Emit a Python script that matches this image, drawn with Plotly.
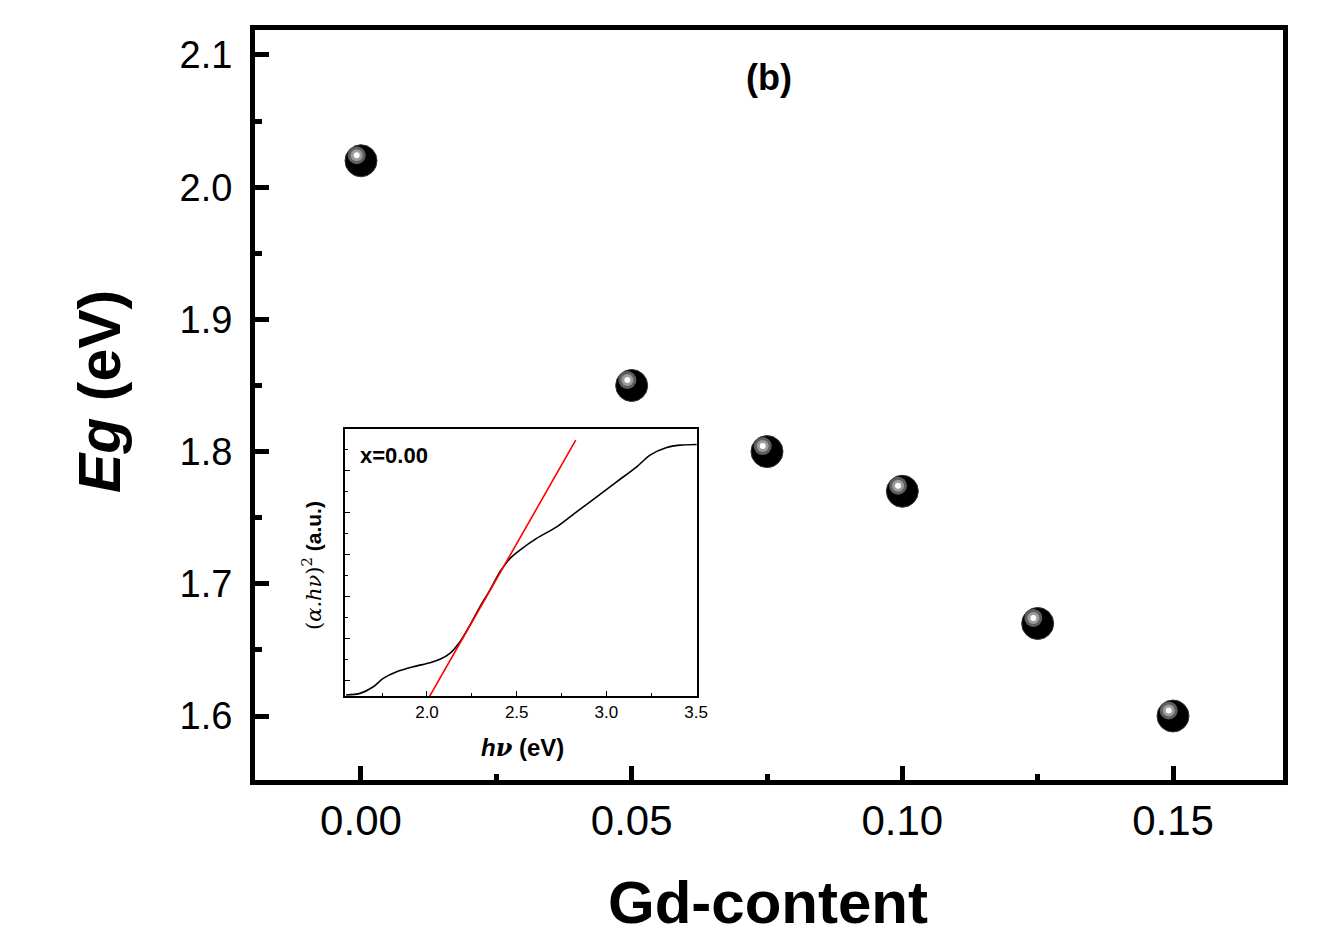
import plotly.graph_objects as go

# ---- main data ----
gd_content = [0.0, 0.05, 0.075, 0.10, 0.125, 0.15]
band_gap = [2.02, 1.85, 1.80, 1.77, 1.67, 1.60]

# ---- inset data (Tauc plot, x = 0.00) ----
inset_hv = [1.549, 1.627, 1.701, 1.756, 1.831, 1.924, 2.017, 2.072, 2.128, 2.184,
            2.240, 2.295, 2.351, 2.407, 2.463, 2.518, 2.611, 2.723, 2.834, 2.946,
            3.057, 3.169, 3.243, 3.336, 3.410, 3.503]
inset_abs = [-0.357, -0.317, -0.160, 0.040, 0.198, 0.317, 0.412, 0.493, 0.635, 0.912,
             1.31, 1.745, 2.143, 2.579, 2.897, 3.095, 3.373, 3.65, 4.007, 4.364,
             4.721, 5.079, 5.357, 5.540, 5.595, 5.611]
fit_hv = [2.013, 2.829]
fit_abs = [-0.40, 5.714]

W, H = 1326, 937
ML, MR, MT, MB = 255, 43, 30, 157
XR = [-0.01958, 0.17032]
YR = [1.5516, 2.1189]
px_per_x = (W - ML - MR) / (XR[1] - XR[0])
px_per_y = (H - MT - MB) / (YR[1] - YR[0])

FONT = "Liberation Sans, Arial, sans-serif"

fig = go.Figure()

# sphere-like markers: black body + offset highlight
fig.add_trace(go.Scatter(x=gd_content, y=band_gap, mode="markers", xaxis="x", yaxis="y",
                         marker=dict(size=32, color="black", line=dict(color="#333", width=1)),
                         showlegend=False, hoverinfo="skip"))
dxo = -4.3 / px_per_x
dyo = 5.5 / px_per_y
hx = [v + dxo for v in gd_content]
hy = [v + dyo for v in band_gap]
for sz, col in [(18, "#5e5e5e"), (12, "#9c9c9c"), (6, "#ffffff")]:
    fig.add_trace(go.Scatter(x=hx, y=hy, mode="markers", xaxis="x", yaxis="y",
                             marker=dict(size=sz, color=col, line=dict(width=0)),
                             showlegend=False, hoverinfo="skip"))

# inset traces
fig.add_trace(go.Scatter(x=inset_hv, y=inset_abs, mode="lines", xaxis="x2", yaxis="y2",
                         line=dict(color="black", width=1.6, shape="spline", smoothing=0.8),
                         showlegend=False, hoverinfo="skip"))
fig.add_trace(go.Scatter(x=fit_hv, y=fit_abs, mode="lines", xaxis="x2", yaxis="y2",
                         line=dict(color="#ff0000", width=1.6),
                         showlegend=False, hoverinfo="skip"))

ix0 = (345 - ML) / (W - ML - MR)
ix1 = (697 - ML) / (W - ML - MR)
iy0 = (H - MB - 696) / (H - MT - MB)
iy1 = (H - MB - 429) / (H - MT - MB)

fig.update_layout(
    width=W, height=H,
    margin=dict(l=ML, r=MR, t=MT, b=MB),
    paper_bgcolor="white", plot_bgcolor="white",
    font=dict(family=FONT, color="black"),
    xaxis=dict(range=XR, domain=[0, 1], showgrid=False, zeroline=False,
               showline=True, linecolor="black", linewidth=5, mirror=True,
               ticks="inside", ticklen=14, tickwidth=5, tickcolor="black",
               tickmode="array", tickvals=[0.0, 0.05, 0.10, 0.15],
               ticktext=["0.00", "0.05", "0.10", "0.15"],
               tickfont=dict(size=42, family=FONT), ticklabelstandoff=0,
               minor=dict(ticks="inside", ticklen=6, tickwidth=5, tickcolor="black",
                          tickvals=[-0.025, 0.025, 0.075, 0.125], showgrid=False)),
    yaxis=dict(range=YR, domain=[0, 1], showgrid=False, zeroline=False,
               showline=True, linecolor="black", linewidth=5, mirror=True,
               ticks="inside", ticklen=14, tickwidth=5, tickcolor="black",
               tickmode="array", tickvals=[1.6, 1.7, 1.8, 1.9, 2.0, 2.1],
               ticktext=["1.6", "1.7", "1.8", "1.9", "2.0", "2.1"],
               tickfont=dict(size=38, family=FONT), ticklabelstandoff=10,
               minor=dict(ticks="inside", ticklen=7, tickwidth=5, tickcolor="black",
                          tickvals=[1.65, 1.75, 1.85, 1.95, 2.05], showgrid=False)),
    xaxis2=dict(range=[1.543, 3.505], domain=[ix0, ix1], anchor="y2",
                showgrid=False, zeroline=False,
                showline=True, linecolor="black", linewidth=1.6, mirror=True,
                ticks="inside", ticklen=5, tickwidth=1.3, tickcolor="black",
                tickmode="array", tickvals=[2.0, 2.5, 3.0, 3.5],
                ticktext=["2.0", "2.5", "3.0", "3.5"],
                tickfont=dict(size=17, family=FONT),
                minor=dict(ticks="inside", ticklen=3, tickwidth=1.3, tickcolor="black",
                           tickvals=[1.75, 2.25, 2.75, 3.25], showgrid=False)),
    yaxis2=dict(range=[-0.38, 5.98], domain=[iy0, iy1], anchor="x2",
                showgrid=False, zeroline=False,
                showline=True, linecolor="black", linewidth=1.6, mirror=True,
                ticks="inside", ticklen=5, tickwidth=1.3, tickcolor="black",
                tickmode="array", tickvals=[0, 1, 2, 3, 4, 5], showticklabels=False,
                minor=dict(ticks="inside", ticklen=3, tickwidth=1.3, tickcolor="black",
                           tickvals=[0.5, 1.5, 2.5, 3.5, 4.5, 5.5], showgrid=False)),
)

pw = W - ML - MR
ph = H - MT - MB
def px(xp):
    return (xp - ML) / pw
def py(yp):
    return (H - MB - yp) / ph

SERIF = "DejaVu Serif, Liberation Serif, serif"
annotations = [
    dict(text="<b><i>E</i><i>g</i> (eV)</b>", x=px(100), y=py(392), textangle=-90,
         font=dict(size=59, family=FONT)),
    dict(text="<b>Gd-content</b>", x=px(768), y=py(903), font=dict(size=60, family=FONT)),
    dict(text="<b>(b)</b>", x=px(769), y=py(78), font=dict(size=36, family=FONT)),
    dict(text="<b>x=0.00</b>", x=px(358), y=py(455), xanchor="left",
         font=dict(size=22, family=FONT)),
    dict(text="<b><i>h</i><span style='font-family:" + SERIF + "'><i>ν</i></span> (eV)</b>",
         x=px(522), y=py(747), font=dict(size=24, family=FONT)),
    dict(text="<span style='font-family:" + SERIF + "'>(<i>α.hν</i>)<sup>2</sup></span> <b>(a.u.)</b>",
         x=px(312), y=py(566), textangle=-90, font=dict(size=21, family=FONT)),
]
for a in annotations:
    a.setdefault("xanchor", "center")
    a.update(xref="paper", yref="paper", showarrow=False, yanchor="middle")
fig.update_layout(annotations=annotations)

fig.write_html("out.html")
